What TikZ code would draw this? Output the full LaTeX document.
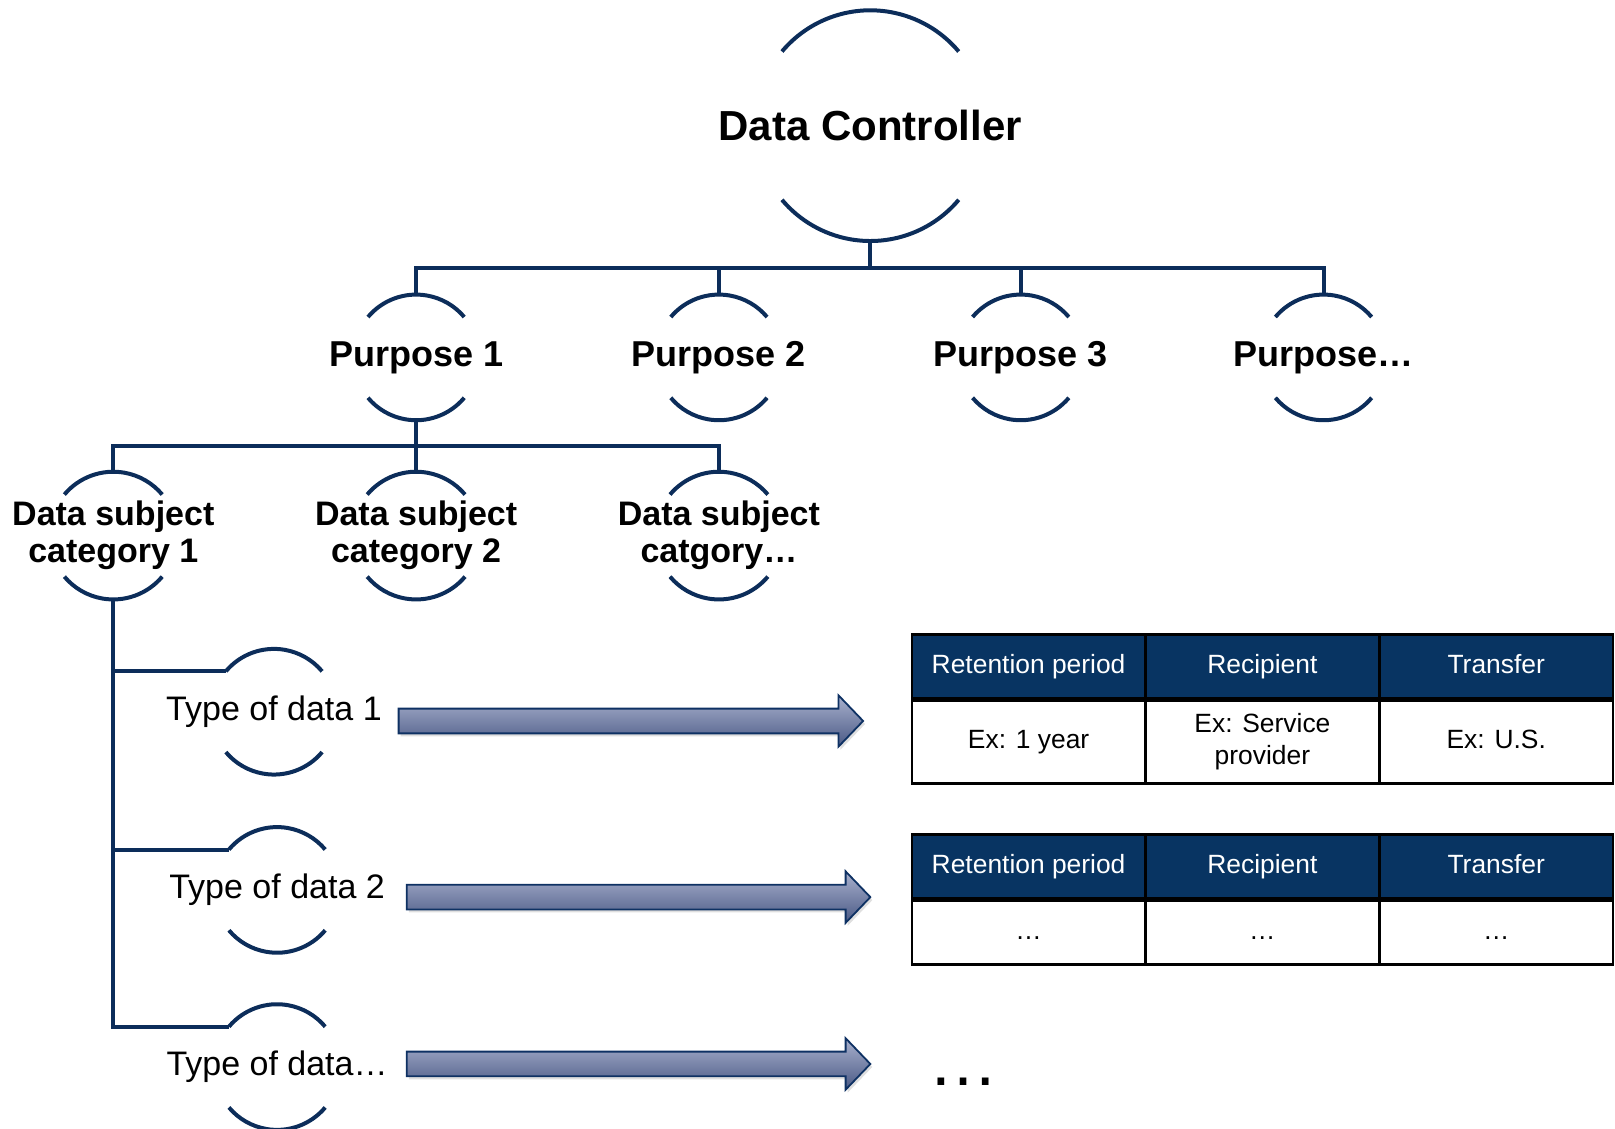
\documentclass[tikz,border=0pt]{standalone}
\usepackage{fontspec}
\setmainfont{Liberation Sans}
\usetikzlibrary{calc,shadows}
\definecolor{treeblue}{HTML}{0C2D5A}
\definecolor{headblue}{HTML}{083462}
\definecolor{arrowtop}{HTML}{A9B1CD}
\definecolor{arrowbot}{HTML}{4A5985}
\definecolor{arrowline}{HTML}{0E3163}
\tikzset{link/.style={draw=treeblue, line width=2pt},
  bubble/.style={inner sep=0pt, align=center},
  oneline/.style={text height=9.6pt, text depth=2.8pt},
  headcell/.style={rectangle, draw=black, line width=1.2pt, fill=headblue, text=white, inner sep=0pt, minimum width=227*0.515pt, minimum height=62*0.515pt, font=\fontsize{13.2}{15}\selectfont, oneline, anchor=north west},
  bodycell/.style={rectangle, draw=black, line width=1.2pt, fill=white, inner sep=0pt, minimum width=227*0.515pt, align=center, font=\fontsize{13.2}{16}\selectfont, anchor=north},
  fatarrow/.style={draw=arrowline, line width=0.9pt, top color=arrowtop, bottom color=arrowbot, drop shadow={opacity=0.25, shadow xshift=1pt, shadow yshift=-1.5pt}}}
% two arcs of a broken circle round a node
\newcommand{\bubblearcs}[2]{\draw[link] ($(#1)+(220:#2)$) arc (220:320:#2);
  \draw[link] ($(#1)+(40:#2)$) arc (40:140:#2);}
% block arrow from start to tip
\newcommand{\fatarrow}[2]{\path[fatarrow] ($(#1)+(0,-12)$) -- ($(#2)+(-24,-12)$) -- ($(#2)+(-24,-25)$) -- (#2) -- ($(#2)+(-24,25)$) -- ($(#2)+(-24,12)$) -- ($(#1)+(0,12)$) -- cycle;}
\begin{document}
\begin{tikzpicture}[x=0.515pt,y=-0.515pt]
	\useasboundingbox (0,0) rectangle (1568,1096);
	% tree
	\node[bubble,font=\bfseries\fontsize{21}{25}\selectfont] (dc) at (845,122) {Data Controller};
	\bubblearcs{dc}{112}
	\foreach \n/\x/\t in {p1/404/Purpose 1, p2/698/Purpose 2, p3/991/Purpose 3, p4/1285/Purpose…}{
		\node[bubble,font=\bfseries\fontsize{18}{21}\selectfont] (\n) at (\x,347) {\t};
		\bubblearcs{\n}{61}
		\draw[link] ($(dc)+(0,112)$) |- ($(\n)+(0,-87)$) -- ($(\n)+(0,-61)$);
	}
	\foreach \n/\x/\t in {dsc1/110/category 1, dsc2/404/category 2, dsc3/698/catgory…}{
		\node[bubble,font=\bfseries\fontsize{17}{18.5}\selectfont] (\n) at (\x,520) {Data subject\\\t};
		\bubblearcs{\n}{62}
		\draw[link] ($(p1)+(0,61)$) |- ($(\n)+(0,-87)$) -- ($(\n)+(0,-62)$);
	}
	\foreach \n/\x/\y/\t in {t1/266/691/Type of data 1, t2/269/864/Type of data 2, t3/269/1036/Type of data…}{
		\node[bubble,font=\fontsize{17}{20}\selectfont] (\n) at (\x,\y) {\t};
		\bubblearcs{\n}{61}
		\draw[link] ($(dsc1)+(0,62)$) |- ($(\n)+(220:61)$);
	}
	% arrows
	\coordinate (a1s) at (387,700); \coordinate (a1t) at (838,700);
	\coordinate (a2s) at (395,871); \coordinate (a2t) at (845,871);
	\coordinate (a3s) at (395,1033); \coordinate (a3t) at (845,1033);
	\fatarrow{a1s}{a1t}
	\fatarrow{a2s}{a2t}
	\fatarrow{a3s}{a3t}
	% tables
	\foreach \c/\b/\s [count=\i from 0] in {Retention period/Ex: 1 year/oneline, Recipient/{Ex: Service\\provider}/bodycell, Transfer/Ex: U.S./oneline}{
		\node[headcell] (ha-\i) at (884+227*\i,615) {\c};
		\node[bodycell,\s,minimum height=80*0.515pt] (ba-\i) at (ha-\i.south) {\b};
		\node[headcell] (hb-\i) at (884+227*\i,809) {\c};
		\node[bodycell,oneline,minimum height=62*0.515pt] (bb-\i) at (hb-\i.south) {…};
	}
	\node[font=\fontsize{35}{35}\selectfont, anchor=base] (more) at (935,1054) {…};
\end{tikzpicture}
\end{document}
